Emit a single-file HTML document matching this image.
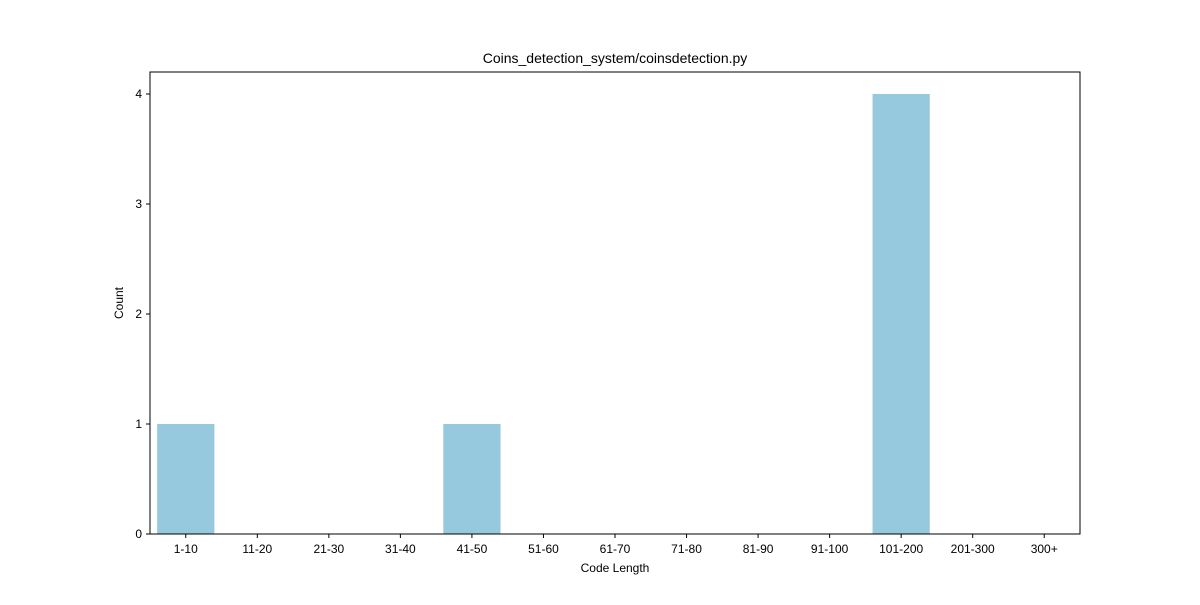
<!DOCTYPE html>
<html><head><meta charset="utf-8"><style>
body{margin:0;background:#fff;}
svg text{font-family:"Liberation Sans","DejaVu Sans",sans-serif;fill:#000;}
</style></head><body>
<svg id="chart" width="1200" height="600" xmlns="http://www.w3.org/2000/svg">
<rect width="1200" height="600" fill="#fff"/>
<text x="615" y="63" font-size="14" text-anchor="middle">Coins_detection_system/coinsdetection.py</text>
<g id="bars"></g>
<g id="xticks"></g>
<g id="yticks"></g>
<rect x="150" y="72" width="930" height="462" fill="none" stroke="#000" stroke-width="1"/>
<text x="615" y="572" font-size="12" text-anchor="middle">Code Length</text>
<text x="123" y="303" font-size="12" text-anchor="middle" transform="rotate(-90 123 303)">Count</text>
</svg>
<script>
const categories=["1-10","11-20","21-30","31-40","41-50","51-60","61-70","71-80","81-90","91-100","101-200","201-300","300+"];
const counts=[1,0,0,0,1,0,0,0,0,0,4,0,0];
const yTicks=[0,1,2,3,4];
const L=150,R=1080,T=72,B=534,yMax=4.2;
const ns="http://www.w3.org/2000/svg";
const band=(R-L)/categories.length;
function xc(i){return L+band*(i+0.5);}
function y(v){return B-(v/yMax)*(B-T);}
const bars=document.getElementById('bars'),xt=document.getElementById('xticks'),yt=document.getElementById('yticks');
categories.forEach((c,i)=>{
  const r=document.createElementNS(ns,'rect');
  r.setAttribute('x',xc(i)-band*0.4);r.setAttribute('width',band*0.8);
  r.setAttribute('y',y(counts[i]));r.setAttribute('height',B-y(counts[i]));
  r.setAttribute('fill','#96c9dd');
  
  
  bars.appendChild(r);
  const l=document.createElementNS(ns,'line');
  l.setAttribute('x1',xc(i));l.setAttribute('x2',xc(i));l.setAttribute('y1',B);l.setAttribute('y2',B+4);l.setAttribute('stroke','#000');
  
  
  xt.appendChild(l);
  const t=document.createElementNS(ns,'text');
  t.setAttribute('x',xc(i));t.setAttribute('y',B+19);t.setAttribute('font-size','12');t.setAttribute('text-anchor','middle');
  t.textContent=c;
  
  
  xt.appendChild(t);
});
yTicks.forEach(v=>{
  const l=document.createElementNS(ns,'line');
  l.setAttribute('x1',L-4);l.setAttribute('x2',L);l.setAttribute('y1',y(v));l.setAttribute('y2',y(v));l.setAttribute('stroke','#000');
  
  
  yt.appendChild(l);
  const t=document.createElementNS(ns,'text');
  t.setAttribute('x',L-8);t.setAttribute('y',y(v)+4);t.setAttribute('font-size','12');t.setAttribute('text-anchor','end');
  t.textContent=v;
  
  
  yt.appendChild(t);
});
</script>
</body></html>
